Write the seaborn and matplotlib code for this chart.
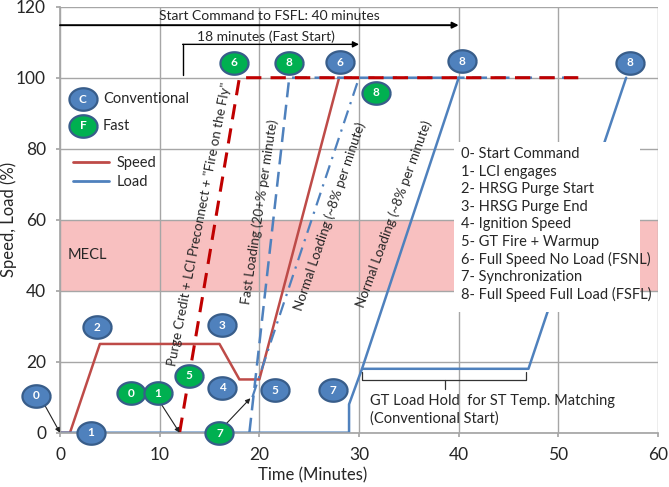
import matplotlib
matplotlib.use('Agg')
import numpy as np
import matplotlib.pyplot as plt
import seaborn as sns
from matplotlib.lines import Line2D
from matplotlib.patches import Rectangle

# Conventional start (solid lines)
conv_speed_t = [0, 1, 4, 16, 18, 20, 28]
conv_speed = [0, 0, 25, 25, 15, 15, 100]
conv_load_t = [0, 29, 29, 30.3, 40]
conv_load = [0, 0, 8, 18, 100]
hold_load_t = [30.3, 47, 56.8]
hold_load = [18, 18, 100]

# Fast start (dashed lines)
fast_speed_t = [12, 18, 52]
fast_speed = [0, 100, 100]
fast_load_t = [19, 23, 52]
fast_load = [0, 100, 100]
fast_normal_t = [19.3, 30]
fast_normal = [10, 100]

# Event bubbles
conv_event_labels = ['0', '1', '2', '3', '4', '5', '6', '7', '8', '8']
conv_event_x = [-2.4, 3.1, 3.7, 16.3, 16.3, 21.6, 28.1, 27.4, 40.3, 57.2]
conv_event_y = [10.4, 0, 29.7, 30.3, 12.7, 12.0, 104.4, 12.0, 104.7, 104.2]
fast_event_labels = ['0', '1', '5', '6', '7', '8', '8']
fast_event_x = [7.1, 9.8, 12.9, 17.5, 16.0, 23.0, 31.7]
fast_event_y = [11.1, 11.1, 16.0, 104.2, -0.2, 104.2, 95.8]

event_list = ['0- Start Command', '1- LCI engages', '2- HRSG Purge Start',
              '3- HRSG Purge End', '4- Ignition Speed', '5- GT Fire + Warmup',
              '6- Full Speed No Load (FSNL)', '7- Synchronization',
              '8- Full Speed Full Load (FSFL)']

RED = '#BE4B48'
DRED = '#C00000'
BLUE = '#4F81BD'
GREEN = '#00B050'
EDGE = '#385D8A'
GRID = '#A6A6A6'

sns.set_theme(style='white')
plt.rcParams['font.family'] = ['Lato', 'DejaVu Sans']

fig = plt.figure(figsize=(6.69, 4.87), dpi=100)
ax = fig.add_axes([0.0897, 0.1115, 0.8939, 0.8747])

ax.axhspan(40, 60, color='#F8C0C0', zorder=0, lw=0)

sns.lineplot(x=conv_speed_t, y=conv_speed, ax=ax, color=RED, lw=1.8,
             sort=False, estimator=None)
sns.lineplot(x=conv_load_t, y=conv_load, ax=ax, color=BLUE, lw=1.8,
             sort=False, estimator=None)
sns.lineplot(x=hold_load_t, y=hold_load, ax=ax, color=BLUE, lw=1.8,
             sort=False, estimator=None)
sns.lineplot(x=fast_load_t, y=fast_load, ax=ax, color=BLUE, lw=1.8,
             sort=False, estimator=None)
ax.lines[-1].set_dashes((6, 3))
sns.lineplot(x=fast_speed_t, y=fast_speed, ax=ax, color=DRED, lw=2.2,
             sort=False, estimator=None)
ax.lines[-1].set_dashes((5, 3))
sns.lineplot(x=fast_normal_t, y=fast_normal, ax=ax, color=BLUE, lw=1.6,
             sort=False, estimator=None)
ax.lines[-1].set_dashes((6, 3, 1, 3))

# slightly wide ellipse used for the numbered bubbles
t = np.linspace(0, 2 * np.pi, 60)
mk = list(zip(1.25 * np.cos(t), np.sin(t)))


def bubbles(xs, ys, labels, color):
    ax.scatter(xs, ys, s=410, marker=mk, c=color, edgecolors=EDGE,
               linewidths=1.6, zorder=8, clip_on=False)
    for x, y, lab in zip(xs, ys, labels):
        ax.text(x, y, lab, color='white', fontsize=8.5, fontweight='bold',
                ha='center', va='center', zorder=9)


bubbles(conv_event_x, conv_event_y, conv_event_labels, BLUE)
bubbles(fast_event_x, fast_event_y, fast_event_labels, GREEN)

# legend for bubbles
bubbles([2.3], [94.0], ['C'], BLUE)
bubbles([2.3], [86.4], ['F'], GREEN)
ax.text(4.3, 94.0, 'Conventional', fontsize=10.5, va='center')
ax.text(4.3, 86.4, 'Fast', fontsize=10.5, va='center')

leg = ax.legend(handles=[Line2D([], [], color=RED, lw=2),
                         Line2D([], [], color=BLUE, lw=2)],
                labels=['Speed', 'Load'], loc='center left',
                bbox_to_anchor=(0.021, 0.611), frameon=False, fontsize=10.5,
                handlelength=2.5, handletextpad=0.55, labelspacing=0.3,
                borderpad=0, borderaxespad=0)

ax.text(0.8, 50, 'MECL', fontsize=10.5, va='center')

# top arrows
arrow_kw = dict(arrowstyle='-|>', color='black', lw=1.4,
                shrinkA=0, shrinkB=0, mutation_scale=9)
ax.annotate('', xy=(40, 114.8), xytext=(0, 114.8), arrowprops=arrow_kw)
ax.text(21, 117.4, 'Start Command to FSFL: 40 minutes', fontsize=10,
        ha='center', va='center')
ax.annotate('', xy=(30, 109.4), xytext=(12.3, 109.4),
            arrowprops=dict(arrow_kw, lw=1.0))
ax.plot([12.3, 12.3], [100.8, 109.4], color='black', lw=1.0)
ax.text(20.7, 111.6, '18 minutes (Fast Start)', fontsize=10,
        ha='center', va='center')

# pointer arrows
thin = dict(arrowstyle='-|>', color='#222222', lw=0.8, shrinkA=0,
            shrinkB=0, mutation_scale=7)
ax.annotate('', xy=(0, 0), xytext=(-1.5, 7.6), arrowprops=thin,
            annotation_clip=False)
ax.annotate('', xy=(12, 0), xytext=(10.1, 8.3), arrowprops=thin)
ax.annotate('', xy=(19.1, 9.7), xytext=(16.6, 2.3), arrowprops=thin)

# rotated annotations
rot_kw = dict(fontsize=9.6, ha='center', va='center', rotation_mode='anchor')
ax.text(14.0, 58.7, 'Purge Credit + LCI Preconnect + "Fire on the Fly"',
        rotation=79, **rot_kw)
ax.text(20.0, 62.1, 'Fast Loading (20+% per minute)', rotation=81.5, **rot_kw)
ax.text(27.05, 61.0, 'Normal Loading (~8% per minute)', rotation=71.3, **rot_kw)
ax.text(33.5, 61.5, 'Normal Loading (~8% per minute)', rotation=70, **rot_kw)

# bracket for the load hold
bx0, bx1, bmid = 30.3, 46.8, 38.6
ax.plot([bx0, bx0, bx1, bx1], [17.2, 14.8, 14.8, 17.2], color='#333333', lw=0.9)
ax.plot([bmid, bmid], [14.8, 12.2], color='#333333', lw=0.9)
ax.text(31.1, 6.5, 'GT Load Hold  for ST Temp. Matching\n(Conventional Start)',
        fontsize=10.5, va='center', linespacing=1.3)

# event description box
ax.add_patch(Rectangle((39.5, 34), 18.7, 48, facecolor='white',
                       edgecolor='none', zorder=5))
for i, line in enumerate(event_list):
    ax.text(40.2, 78.4 - i * 4.93, line, fontsize=10.5, va='center', zorder=6)

ax.set_xlim(0, 60)
ax.set_ylim(0, 120)
ax.set_xticks(range(0, 61, 10))
ax.set_yticks(range(0, 121, 20))
ax.set_axisbelow(True)
ax.grid(True, color=GRID, lw=1)
for side in ['top', 'right']:
    ax.spines[side].set_visible(False)
for side in ['left', 'bottom']:
    ax.spines[side].set_color(GRID)
ax.tick_params(axis='both', length=3, color=GRID, labelsize=12.5,
               direction='out', bottom=True, left=True)
ax.tick_params(axis='x', pad=7)
ax.tick_params(axis='y', pad=7)
ax.set_xlabel('Time (Minutes)', fontsize=12)
ax.set_ylabel('Speed, Load (%)', fontsize=12)
ax.xaxis.set_label_coords(0.4217, -0.082)
ax.yaxis.set_label_coords(-0.072, 0.5)

plt.savefig('out.png', dpi=100)
